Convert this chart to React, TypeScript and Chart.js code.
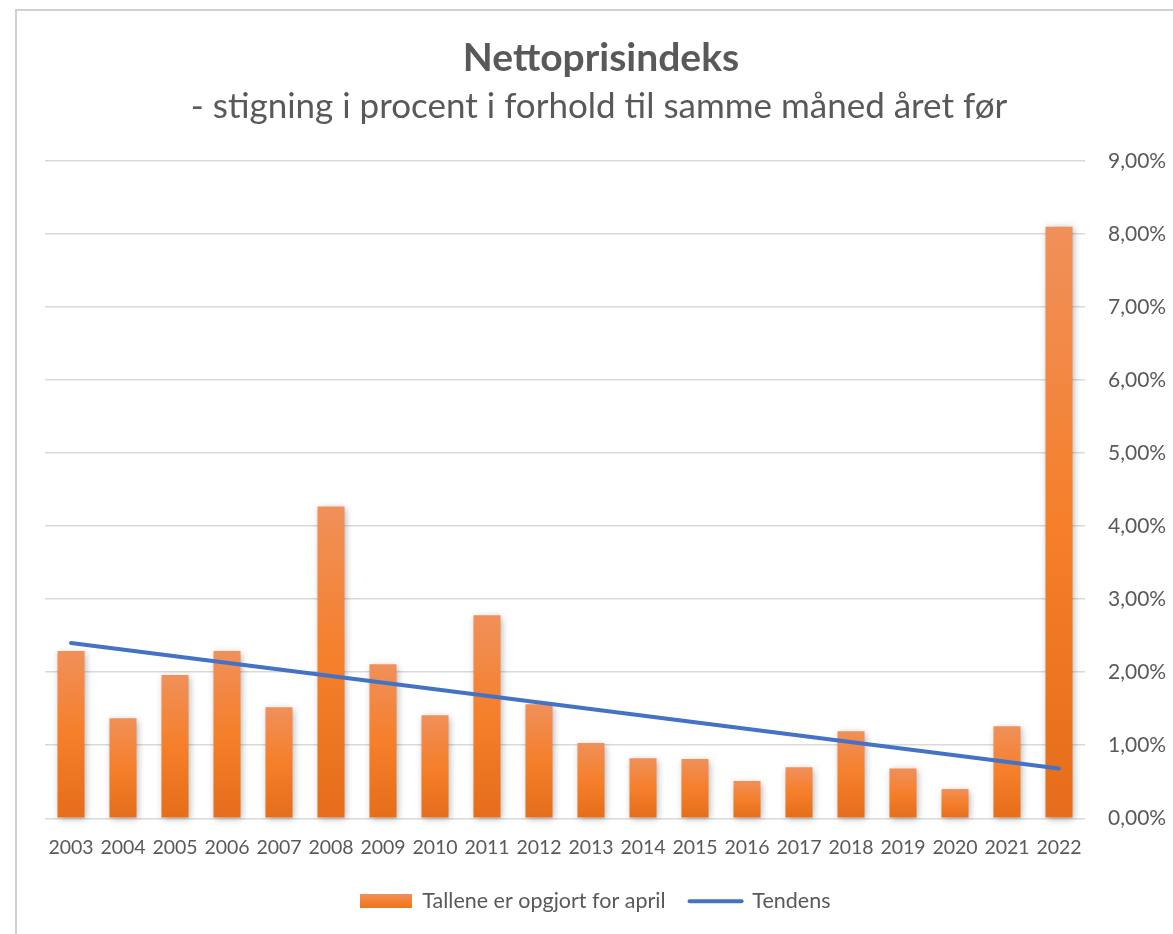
import React, { useEffect, useRef } from 'react';
import { Chart, registerables } from 'chart.js';

Chart.register(...registerables);

const categories = ['2003', '2004', '2005', '2006', '2007', '2008', '2009', '2010', '2011', '2012', '2013', '2014', '2015', '2016', '2017', '2018', '2019', '2020', '2021', '2022'];
const increasePct = [2.29, 1.37, 1.96, 2.29, 1.52, 4.27, 2.11, 1.41, 2.78, 1.56, 1.03, 0.82, 0.81, 0.51, 0.70, 1.19, 0.68, 0.40, 1.26, 8.10];
const trendPct: (number | null)[] = [2.40, null, null, null, null, null, null, null, null, null, null, null, null, null, null, null, null, null, null, 0.68];
const yMin = 0;
const yMax = 9;
const yStep = 1;

const titleText = 'Nettoprisindeks';
const subtitleText = '- stigning i procent i forhold til samme måned året før';
const barLabel = 'Tallene er opgjort for april';
const lineLabel = 'Tendens';

const TEXT = '#595959';
const FONT = 'Lato, "Open Sans", sans-serif';

function fmtPct(v: number) {
  return v.toFixed(2).replace('.', ',') + '%';
}

export default function App() {
  const ref = useRef<HTMLCanvasElement | null>(null);

  useEffect(() => {
    if (!ref.current) return;

    const legendBox = document.createElement('canvas');
    legendBox.width = 52;
    legendBox.height = 14;
    const lctx = legendBox.getContext('2d');
    if (lctx) {
      const g = lctx.createLinearGradient(0, 0, 0, 14);
      g.addColorStop(0, '#F0905A');
      g.addColorStop(0.6, '#F47E2C');
      g.addColorStop(1, '#EE7420');
      lctx.fillStyle = g;
      lctx.fillRect(0, 0, 52, 14);
    }

    const decor = {
      id: 'decor',
      beforeDraw(chart: any) {
        const ctx = chart.ctx;
        ctx.save();
        ctx.fillStyle = '#ffffff';
        ctx.fillRect(0, 0, chart.width, chart.height);
        ctx.strokeStyle = '#d0d0d0';
        ctx.lineWidth = 2;
        ctx.strokeRect(16, 10, chart.width + 40, chart.height + 40);
        ctx.fillStyle = TEXT;
        ctx.textAlign = 'center';
        ctx.textBaseline = 'alphabetic';
        ctx.font = `bold 39px ${FONT}`;
        ctx.fillText(titleText, 601, 71);
        ctx.font = `35px ${FONT}`;
        ctx.fillText(subtitleText, 599, 118);
        ctx.restore();
      },
      afterLayout(chart: any) {
        if (chart.legend) {
          chart.legend.left -= 14;
          chart.legend.right -= 14;
        }
      },
    };

    const barShadow = {
      id: 'barShadow',
      beforeDatasetDraw(chart: any, args: any) {
        if (args.index !== 0) return;
        const ctx = chart.ctx;
        ctx.save();
        ctx.shadowColor = 'rgba(0,0,0,0.32)';
        ctx.shadowBlur = 7;
        ctx.shadowOffsetX = 1.5;
        ctx.shadowOffsetY = 1.5;
      },
      afterDatasetDraw(chart: any, args: any) {
        if (args.index !== 0) return;
        chart.ctx.restore();
      },
    };

    const chart = new Chart(ref.current, {
      type: 'bar',
      data: {
        labels: categories,
        datasets: [
          {
            type: 'bar',
            label: barLabel,
            data: increasePct,
            order: 1,
            clip: false as any,
            barPercentage: 0.52,
            categoryPercentage: 1,
            backgroundColor: (c: any) => {
              const chart = c.chart;
              if (!chart.chartArea || c.raw == null || !chart.scales.y) return '#F47E2C';
              const y = chart.scales.y;
              const top = y.getPixelForValue(c.raw as number);
              const bottom = y.getPixelForValue(0);
              if (!isFinite(top) || !isFinite(bottom) || top === bottom) return '#F47E2C';
              const g = chart.ctx.createLinearGradient(0, top, 0, bottom);
              g.addColorStop(0, '#F0905A');
              g.addColorStop(0.5, '#F57F2A');
              g.addColorStop(1, '#E56D1B');
              return g;
            },
          } as any,
          {
            type: 'line',
            label: lineLabel,
            data: trendPct,
            order: 0,
            spanGaps: true,
            borderColor: '#4472C4',
            backgroundColor: '#4472C4',
            borderWidth: 4,
            borderCapStyle: 'round',
            pointRadius: 0,
            pointHoverRadius: 0,
            pointStyle: 'line',
            fill: false,
          } as any,
        ],
      },
      options: {
        animation: false,
        responsive: true,
        maintainAspectRatio: false,
        devicePixelRatio: 1,
        layout: { padding: { top: 161, left: 45, right: 0, bottom: 12 } },
        font: { family: FONT },
        plugins: {
          title: { display: false },
          tooltip: { enabled: false },
          legend: {
            display: true,
            position: 'bottom',
            labels: {
              usePointStyle: true,
              pointStyleWidth: 52,
              boxHeight: 14,
              padding: 24,
              color: TEXT,
              font: { family: FONT, size: 21.5 },
              sort: (a: any, b: any) => a.datasetIndex - b.datasetIndex,
              generateLabels: (chart: any) => {
                const items = (Chart.defaults.plugins.legend.labels as any).generateLabels(chart);
                items.forEach((it: any) => {
                  if (it.datasetIndex === 0) {
                    it.pointStyle = legendBox;
                    it.lineWidth = 0;
                  } else {
                    it.pointStyle = 'line';
                    it.lineCap = 'round';
                  }
                });
                return items;
              },
            },
          },
        },
        scales: {
          x: {
            offset: true,
            grid: { display: false, drawTicks: false },
            border: { display: false },
            afterFit: (s: any) => { s.height = 48.25; },
            ticks: {
              color: TEXT,
              font: { family: FONT, size: 19.5 },
              padding: 18,
              maxRotation: 0,
              autoSkip: false,
            },
          },
          y: {
            position: 'right',
            min: yMin,
            max: yMax,
            afterFit: (s: any) => { s.width = 88; },
            grid: { color: '#d9d9d9', lineWidth: 1.5, drawTicks: false },
            border: { display: false },
            ticks: {
              stepSize: yStep,
              color: TEXT,
              font: { family: FONT, size: 21 },
              padding: 23,
              callback: (v: any) => fmtPct(Number(v)),
            },
          },
        },
      } as any,
      plugins: [decor, barShadow],
    });

    return () => chart.destroy();
  }, []);

  return (
    <div style={{ position: 'absolute', left: 0, top: 0, width: 1173, height: 934 }}>
      <canvas ref={ref} />
    </div>
  );
}
